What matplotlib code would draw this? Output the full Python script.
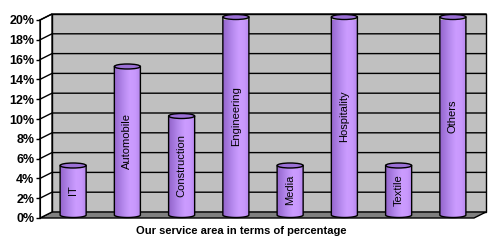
import numpy as np
import matplotlib
matplotlib.use("Agg")
import matplotlib.pyplot as plt
import matplotlib.colors as mcolors
from matplotlib.path import Path
from matplotlib.patches import PathPatch, Polygon, Ellipse

categories = ["IT", "Automobile", "Construction", "Engineering",
              "Media", "Hospitality", "Textile", "Others"]
values = [5, 15, 10, 20, 5, 20, 5, 20]
yticks = [0, 2, 4, 6, 8, 10, 12, 14, 16, 18, 20]
title = "Our service area in terms of percentage"

plt.rcParams["font.family"] = ["Liberation Sans", "DejaVu Sans"]

W, H = 490, 240
fig = plt.figure(figsize=(W / 100, H / 100), dpi=100)
fig.patch.set_facecolor("white")

# front plane of the 3d box, in pixels
left_px, right_px, top_px, bot_px = 40, 474, 20, 218
ax = fig.add_axes([left_px / W, (H - bot_px) / H,
                   (right_px - left_px) / W, (bot_px - top_px) / H])
ax.set_facecolor("none")
xmin, xmax, ymin, ymax = -0.5, len(categories) - 0.5, 0, 20
ax.set_xlim(xmin, xmax)
ax.set_ylim(ymin, ymax)

# depth offsets (12px right, 6px up) converted to data units
dx = 12 * (xmax - xmin) / (right_px - left_px)
dy = 6 * (ymax - ymin) / (bot_px - top_px)

# back wall, floor, left wall
ax.add_patch(Polygon([(xmin + dx, dy), (xmax + dx, dy), (xmax + dx, ymax + dy),
                      (xmin + dx, ymax + dy)], closed=True, facecolor="#c0c0c0",
                     edgecolor="black", lw=1, clip_on=False, zorder=1))
ax.add_patch(Polygon([(xmin, 0), (xmax, 0), (xmax + dx, dy), (xmin + dx, dy)],
                     closed=True, facecolor="#808080", edgecolor="black",
                     lw=1, clip_on=False, zorder=1))
ax.add_patch(Polygon([(xmin, 0), (xmin + dx, dy), (xmin + dx, ymax + dy),
                      (xmin, ymax)], closed=True, facecolor="white",
                     edgecolor="black", lw=1, clip_on=False, zorder=1))
for v in yticks[1:]:
    ax.plot([xmin, xmin + dx, xmax + dx], [v, v + dy, v + dy], color="black",
            lw=1, clip_on=False, zorder=2)

# cylinders
bw = 0.48
eh = 5 * (ymax - ymin) / (bot_px - top_px)
grad_cmap = mcolors.LinearSegmentedColormap.from_list(
    "cyl", ["#9466cc", "#a77ae0", "#bb8ef2", "#cc9cff", "#c898fc", "#b486ec"])
grad = np.linspace(0, 1, 64).reshape(1, -1)

for i, (cat, v) in enumerate(zip(categories, values)):
    cx = i + dx / 2
    b = dy / 2
    t = v + dy / 2
    th = np.linspace(np.pi, 2 * np.pi, 40)
    arc = [(cx + bw / 2 * np.cos(a), b + eh / 2 * np.sin(a)) for a in th]
    verts = [(cx - bw / 2, t)] + arc + [(cx + bw / 2, t), (cx - bw / 2, t)]
    path = Path(verts, closed=True)
    body = PathPatch(path, facecolor="none", edgecolor="black", lw=1,
                     clip_on=False, zorder=4)
    im = ax.imshow(grad, cmap=grad_cmap, aspect="auto",
                   extent=(cx - bw / 2, cx + bw / 2, b - eh, t),
                   zorder=3, interpolation="bilinear")
    ax.add_patch(body)
    im.set_clip_path(body)
    ax.add_patch(Ellipse((cx, t), bw, eh, facecolor="#9b70d6",
                         edgecolor="black", lw=1, clip_on=False, zorder=5))
    ax.text(cx, (b + t) / 2, cat, rotation=90, ha="center", va="center",
            fontsize=8, color="black", zorder=6)

ax.set_xlim(xmin, xmax)
ax.set_ylim(ymin, ymax)
for s in ["top", "right", "bottom"]:
    ax.spines[s].set_visible(False)
ax.spines["left"].set_zorder(6)
ax.set_xticks([])
ax.set_yticks(yticks)
ax.set_yticklabels([f"{v}%" for v in yticks], fontsize=9, fontweight="bold")
ax.tick_params(axis="y", length=3, width=1, pad=1)

fig.text(241 / W, 1 - 231 / H, title, ha="center", va="center",
         fontsize=8, fontweight="bold")

fig.savefig("out.png", dpi=100)
